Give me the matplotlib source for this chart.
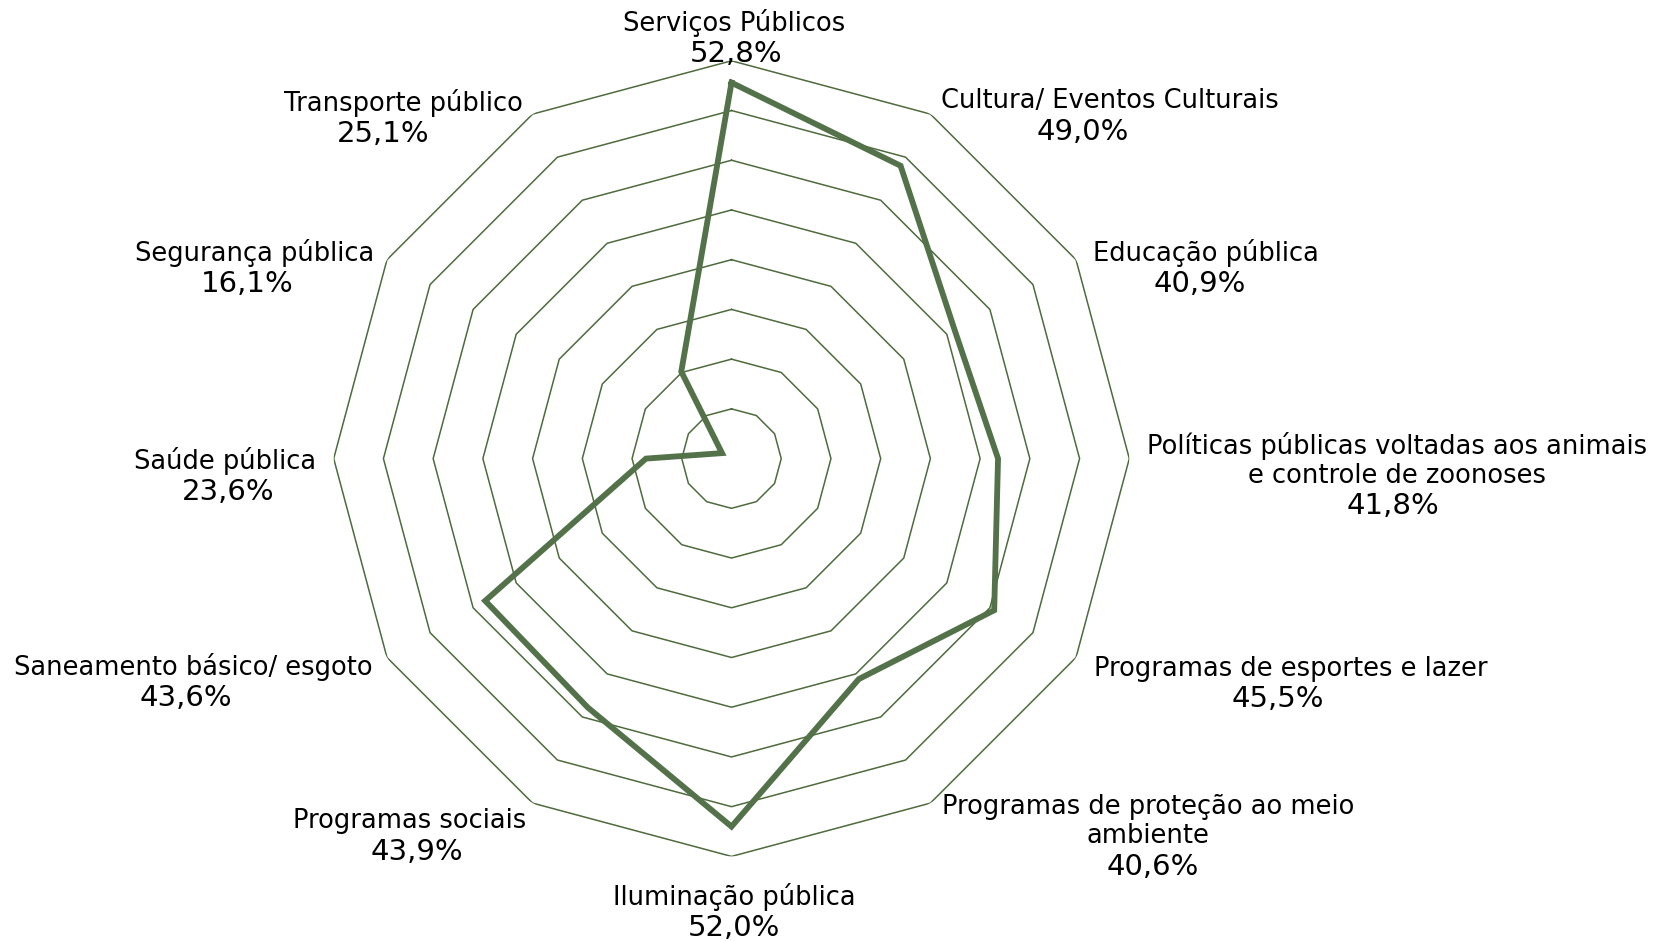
import numpy as np
import matplotlib
matplotlib.use("Agg")
import matplotlib.pyplot as plt

categories = ["Serviços Públicos", "Cultura/ Eventos Culturais", "Educação pública",
              "Políticas públicas voltadas aos animais\ne controle de zoonoses",
              "Programas de esportes e lazer", "Programas de proteção ao meio\nambiente",
              "Iluminação pública", "Programas sociais", "Saneamento básico/ esgoto",
              "Saúde pública", "Segurança pública", "Transporte público"]
values = [52.8, 49.0, 40.9, 41.8, 45.5, 40.6, 52.0, 43.9, 43.6, 23.6, 16.1, 25.1]
value_labels = ["52,8%", "49,0%", "40,9%", "41,8%", "45,5%", "40,6%", "52,0%",
                "43,9%", "43,6%", "23,6%", "16,1%", "25,1%"]
r_min, r_max = 15, 55
rings = [20, 25, 30, 35, 40, 45, 50, 55]

# boundary between name and value lines, in axes fraction (layout only)
label_pos = [(0.503, 1.029), (0.976, 0.932), (1.096, 0.740), (1.337, 0.461),
             (1.203, 0.219), (1.024, 0.008), (0.503, -0.069), (0.095, 0.027),
             (-0.176, 0.220), (-0.136, 0.479), (-0.100, 0.740), (0.088, 0.929)]
value_dx = [0.003, -0.034, -0.008, -0.006, -0.016, 0.005, 0.0, 0.009,
            -0.010, 0.004, -0.009, -0.026]

grid_color = "#4E6B3D"
line_color = "#54724A"

fig = plt.figure(figsize=(16.61, 9.41), dpi=100)
ax = fig.add_axes([0.2009, 0.0899, 0.479, 0.8455], projection="polar")
ax.set_theta_offset(np.pi / 2)
ax.set_theta_direction(-1)
ax.set_ylim(r_min, r_max)
ax.grid(False)
ax.set_xticks([])
ax.set_yticks([])
ax.spines["polar"].set_visible(False)

n = len(categories)
theta = np.linspace(0, 2 * np.pi, n, endpoint=False)
theta_c = np.concatenate([theta, theta[:1]])
for rv in rings:
    ax.plot(theta_c, [rv] * (n + 1), color=grid_color, lw=1.1, zorder=1)

vals_c = values + values[:1]
ax.plot(theta_c, vals_c, color=line_color, lw=4.2, zorder=3, solid_joinstyle="miter")

for cat, vl, (x, y), dx in zip(categories, value_labels, label_pos, value_dx):
    ax.text(x, y + 0.0007, cat, transform=ax.transAxes, ha="center", va="bottom",
            fontsize=18.5, color="black", linespacing=1.15, multialignment="center",
            family="DejaVu Sans")
    ax.text(x + dx, y - 0.0033, vl, transform=ax.transAxes, ha="center", va="top",
            fontsize=21, color="black", family="DejaVu Sans")

fig.savefig("out.png", dpi=100)
